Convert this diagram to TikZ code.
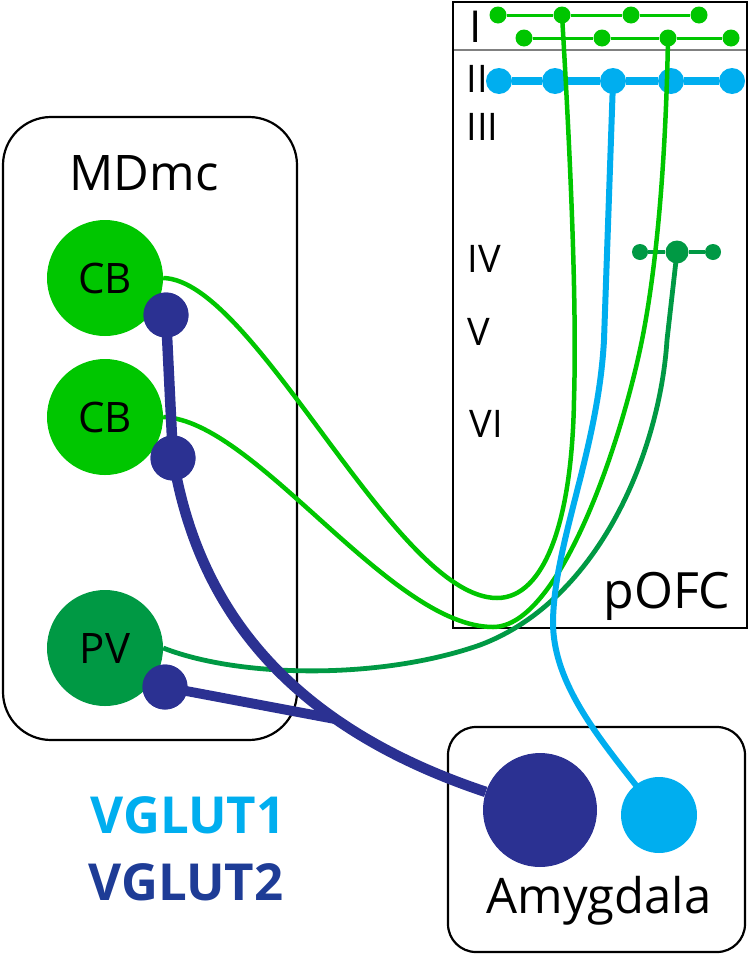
\documentclass[tikz,border=0pt]{standalone}
\usepackage{fontspec}
\usetikzlibrary{calc}
\setmainfont{Open Sans}
\newcommand\myfs[1]{\fontsize{#1}{#1}\selectfont}
\definecolor{cbgreen}{RGB}{0,198,0}
\definecolor{pvgreen}{RGB}{0,153,68}
\definecolor{lblue}{RGB}{0,174,239}
\definecolor{dblue}{RGB}{43,49,146}
\definecolor{legblue}{RGB}{30,60,150}
\tikzset{
  region/.style={draw=black, line width=2.2pt},
  blob/.style={circle, inner sep=0pt, fill=#1},
  cell/.style={circle, inner sep=0pt, minimum size=116pt, fill=#1, text=black, font=\myfs{42}},
  lay/.style={anchor=base west, font=\myfs{38}},
  gline/.style={draw=cbgreen, line width=4.5pt},
  pvline/.style={draw=pvgreen, line width=4.8pt},
  vg1line/.style={draw=lblue, line width=6pt},
  vg2line/.style={draw=dblue, line width=10.5pt},
}
\begin{document}
\begin{tikzpicture}[x=1pt,y=-1pt]
\useasboundingbox (0,0) rectangle (750,956);
% regions
\draw[region, rounded corners=48pt] (3,117) rectangle (297,740);
\draw[region] (453,2) rectangle (747,628);
\draw[draw=gray, line width=1.2pt] (454,50) -- (746,50);
\draw[region, rounded corners=28pt] (448,727) rectangle (745,952);
% labels
\node[anchor=base, font=\myfs{49}] (mdmc) at (144,190) {MDmc};
\node[anchor=base, font=\myfs{50}] (pofc) at (667,608) {pOFC};
\node[anchor=base, font=\myfs{49}] (amyg) at (599,913) {Amygdala};
\node[anchor=base west, font=\myfs{44}] (l1) at (466,42) {I};
\node[lay] (l2) at (463,92) {II};
\node[lay] (l3) at (463,140) {III};
\node[lay] (l4) at (464,272) {IV};
\node[lay] (l5) at (464,345) {V};
\node[lay] (l6) at (466,437) {VI};
\node[anchor=base, font=\bfseries\myfs{51}, text=lblue] (leg1) at (188,833) {VGLUT1};
\node[anchor=base, font=\bfseries\myfs{51}, text=legblue] (leg2) at (186,900) {VGLUT2};
% MDmc cells
\node[cell=cbgreen] (cb1) at (105,278) {CB};
\node[cell=cbgreen] (cb2) at (105,417) {CB};
\node[cell=pvgreen] (pv) at (105,648) {PV};
% amygdala cells
\node[blob=dblue, minimum size=114pt] (amd) at (540,810) {};
\node[blob=lblue, minimum size=76pt] (amb) at (659,815) {};
% layer II
\foreach \n/\x in {c1/499,c2/555,c3/613,c4/671,c5/732}
  \node[blob=lblue, minimum size=26pt] (\n) at (\x,81) {};
\draw[draw=lblue, line width=7.5pt] (c1) -- (c2) -- (c3) -- (c4) -- (c5);
% layer I
\foreach \n/\x in {a1/498,a2/562,a3/631,a4/699}
  \node[blob=cbgreen, minimum size=17pt] (\n) at (\x,15) {};
\foreach \n/\x in {b1/524,b2/602,b3/668,b4/731}
  \node[blob=cbgreen, minimum size=17pt] (\n) at (\x,38) {};
\draw[draw=cbgreen, line width=3pt] (a1) -- (a2) -- (a3) -- (a4);
\draw[draw=cbgreen, line width=3pt] (b1) -- (b2) -- (b3) -- (b4);
% layer IV
\node[blob=pvgreen, minimum size=16pt] (e1) at (640,252) {};
\node[blob=pvgreen, minimum size=23pt] (e2) at (677,252) {};
\node[blob=pvgreen, minimum size=16pt] (e3) at (713,252) {};
\draw[draw=pvgreen, line width=4.5pt] (e1) -- (e2) -- (e3);
% green projections
\draw[gline] (cb1.east) .. controls (255,280) and (395,598) .. (497,598)
  .. controls (545,598) and (572,520) .. (574,400)
  .. controls (577,300) and (570,150) .. (a2.center);
\draw[gline] (cb2.east) .. controls (255,420) and (390,627) .. (493,627)
  .. controls (560,627) and (622,440) .. (642,340)
  .. controls (658,260) and (666,150) .. (b3.center);
\draw[pvline] (pv.east) .. controls (240,678) and (380,680) .. (480,645)
  .. controls (600,600) and (660,450) .. (667,340) -- (e2.center);
% VGLUT1 projection
\coordinate (v1) at (604,340);
\draw[vg1line] (c3.center) -- (v1) .. controls (598,450) and (555,540) .. (553,620)
  .. controls (552,690) and (610,750) .. (amb.center);
% VGLUT2 projections
\node[blob=dblue, minimum size=45pt] (d1) at (166,315) {};
\node[blob=dblue, minimum size=45pt] (d2) at (173,458) {};
\node[blob=dblue, minimum size=45pt] (d3) at (165,687) {};
\coordinate (mg) at (356,728);
\draw[vg2line] (d1.center) -- (d2.center);
\draw[vg2line] (d2.center) .. controls (195,590) and (270,720) .. (amd);
\fill[dblue] ($(d3.center)+(0,-5)$) -- (330,713) -- (mg) -- ($(d3.center)+(0,5)$) -- cycle;
\node[blob=dblue, minimum size=45pt] at (d1) {};
\node[blob=dblue, minimum size=45pt] at (d2) {};
\node[blob=dblue, minimum size=45pt] at (d3) {};
\end{tikzpicture}
\end{document}
